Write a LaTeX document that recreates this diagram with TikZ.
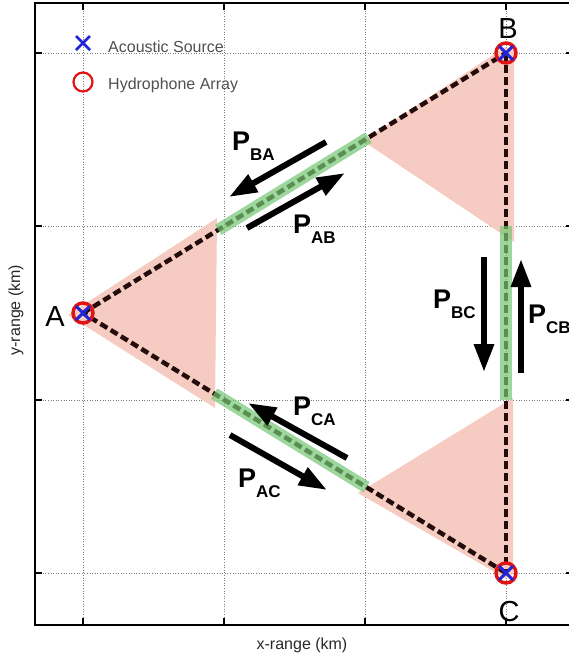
\documentclass[tikz,border=0pt]{standalone}
\usepackage{fontspec}
\setmainfont{Liberation Sans}
\usetikzlibrary{arrows.meta,calc}
\definecolor{pinkfill}{RGB}{246,204,194}
\definecolor{greenbar}{RGB}{115,198,115}
\definecolor{dashcol}{RGB}{35,12,10}
\definecolor{gridcol}{RGB}{125,125,125}
\definecolor{legtext}{RGB}{80,80,80}
\definecolor{axtext}{RGB}{40,40,40}
\definecolor{mkred}{RGB}{225,20,20}
\definecolor{mkblue}{RGB}{35,35,215}
\newcommand\PSubLabel[1]{P\raisebox{-10pt}{\fontsize{17}{17}\selectfont\bfseries #1}}
\begin{document}
\begin{tikzpicture}[x=1pt,y=-1pt,
  gridline/.style={gridcol, line width=0.8pt, dash pattern=on 1pt off 1.6pt},
  frameline/.style={black, line width=1.8pt},
  tickline/.style={black, line width=1.8pt},
  beam/.style={pinkfill},
  pathline/.style={dashcol, line width=4.5pt, dash pattern=on 8pt off 4pt},
  greenseg/.style={greenbar, opacity=0.7, line width=12pt},
  bigarrow/.style={black, line width=6pt, -{Triangle[length=28pt,width=19pt]}},
  plabel/.style={font=\fontsize{27}{27}\selectfont\bfseries, inner sep=0pt, anchor=base west},
  vlabel/.style={font=\fontsize{29}{29}\selectfont, inner sep=0pt},
  legtxt/.style={font=\fontsize{16}{16}\selectfont, text=legtext, inner sep=0pt, anchor=base west},
  axlabel/.style={font=\fontsize{16}{16}\selectfont, text=axtext, inner sep=0pt},
  redring/.style={mkred, line width=3.5pt},
  bluex/.style={mkblue, line width=3pt},
]
\useasboundingbox (0,0) rectangle (569,657);
\begin{scope}
\clip (0,0) rectangle (569,657);
% grid
\foreach \gx in {83,224,365,506} \draw[gridline] (\gx,3) -- (\gx,625);
\foreach \gy in {53,226,400,573} \draw[gridline] (35,\gy) -- (573,\gy);
% frame and ticks
\draw[frameline] (35,3) rectangle (573,625);
\foreach \gx in {83,224,365,506} {
  \draw[tickline] (\gx,3) -- (\gx,10);
  \draw[tickline] (\gx,625) -- (\gx,618);
}
\foreach \gy in {53,226,400,573} {
  \draw[tickline] (35,\gy) -- (42,\gy);
  \draw[tickline] (573,\gy) -- (566,\gy);
}

% vertices
\coordinate (A) at (83,313);
\coordinate (B) at (506,53);
\coordinate (C) at (506,573);

% pink beams
\fill[beam] (68,315) -- (217,218) -- (215,408) -- cycle;
\fill[beam] (505,47) -- (514,50) -- (514,242) -- (363,141) -- cycle;
\fill[beam] (358,493) -- (513,398) -- (513,574) -- (505,578) -- cycle;

% dashed paths
\draw[pathline] (A) -- (B);
\draw[pathline] (B) -- (C);
\draw[pathline] (C) -- (A);

% green segments
\draw[greenseg] ($(A)!0.32!(B)$) -- ($(A)!0.675!(B)$);
\draw[greenseg] ($(B)!0.333!(C)$) -- ($(B)!0.667!(C)$);
\draw[greenseg, shift={(-1.5,3)}] ($(A)!0.31!(C)$) -- ($(A)!0.67!(C)$);

% markers
\foreach \v in {A,B,C} {
  \draw[redring] (\v) circle[radius=10];
  \draw[bluex] ($(\v)+(-7,-7)$) -- ($(\v)+(7,7)$);
  \draw[bluex] ($(\v)+(-7,7)$) -- ($(\v)+(7,-7)$);
}

% arrows
\coordinate (baS) at (326,142); \coordinate (baE) at (229,197);
\coordinate (abS) at (247,228); \coordinate (abE) at (345,173);
\coordinate (bcS) at (484,257); \coordinate (bcE) at (484,372);
\coordinate (cbS) at (521,373); \coordinate (cbE) at (521,259);
\coordinate (caS) at (347,458); \coordinate (caE) at (248,403);
\coordinate (acS) at (230,435); \coordinate (acE) at (327,490);
\draw[bigarrow] (baS) -- (baE);
\draw[bigarrow] (abS) -- (abE);
\draw[bigarrow] (bcS) -- (bcE);
\draw[bigarrow] (cbS) -- (cbE);
\draw[bigarrow] (caS) -- (caE);
\draw[bigarrow] (acS) -- (acE);

% arrow labels
\node[plabel] (lBA) at (232,150) {\PSubLabel{BA}};
\node[plabel] (lAB) at (293,233) {\PSubLabel{AB}};
\node[plabel] (lBC) at (433,308) {\PSubLabel{BC}};
\node[plabel] (lCB) at (528,323) {\PSubLabel{CB}};
\node[plabel] (lCA) at (293,415) {\PSubLabel{CA}};
\node[plabel] (lAC) at (238,487) {\PSubLabel{AC}};

% vertex labels
\node[vlabel] (tA) at (55,317) {A};
\node[vlabel] (tB) at (508,29) {B};
\node[vlabel] (tC) at (509,612) {C};

% legend
\coordinate (lgX) at (83,43);
\coordinate (lgO) at (83,82);
\draw[mkblue, line width=2.5pt] ($(lgX)+(-7,-7)$) -- ($(lgX)+(7,7)$);
\draw[mkblue, line width=2.5pt] ($(lgX)+(-7,7)$) -- ($(lgX)+(7,-7)$);
\draw[mkred, line width=2.2pt] (lgO) circle[radius=9.5];
\node[legtxt] (legA) at (108,52) {Acoustic Source};
\node[legtxt] (legH) at (108,89) {Hydrophone Array};

% axis labels
\node[axlabel] (xlab) at (302,645) {x-range (km)};
\node[axlabel, rotate=90] (ylab) at (16,310) {y-range (km)};
\end{scope}
\end{tikzpicture}
\end{document}
